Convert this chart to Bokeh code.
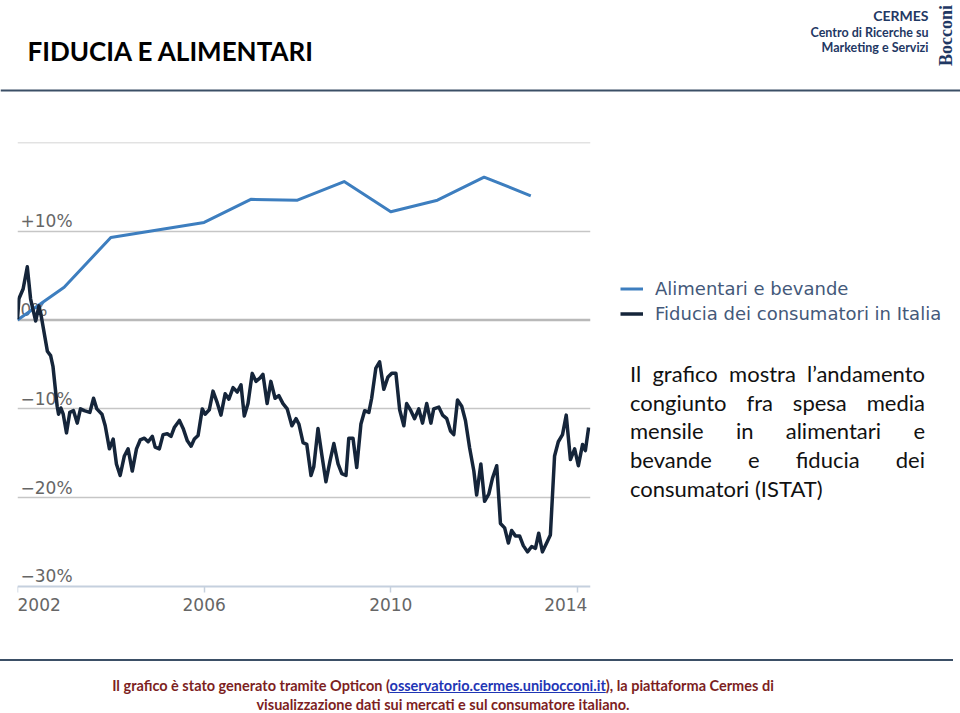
import numpy as np
from bokeh.plotting import figure
from bokeh.models import Range1d, FixedTicker, Span, Legend, LegendItem, Div
from bokeh.layouts import column, row
from bokeh.core.properties import value
from bokeh.embed import file_html
from bokeh.resources import INLINE

# ---------------- data ----------------
series_names = ["Alimentari e bevande", "Fiducia dei consumatori in Italia"]

food_years = [2002, 2003, 2004, 2006, 2007, 2008, 2009, 2010, 2011, 2012, 2013]
food_change = [0.0, 3.7, 9.3, 11.0, 13.6, 13.5, 15.6, 12.2, 13.5, 16.1, 14.0]

trust_years = [
    2002.00, 2002.03, 2002.12, 2002.21, 2002.28, 2002.34, 2002.39, 2002.46, 2002.51, 2002.64,
    2002.71, 2002.76, 2002.85, 2002.88, 2002.93, 2002.98, 2003.05, 2003.12, 2003.20, 2003.28,
    2003.35, 2003.43, 2003.55, 2003.63, 2003.70, 2003.81, 2003.88, 2003.97, 2004.05, 2004.12,
    2004.20, 2004.29, 2004.37, 2004.46, 2004.55, 2004.63, 2004.72, 2004.80, 2004.89, 2004.95,
    2005.04, 2005.12, 2005.21, 2005.29, 2005.36, 2005.47, 2005.55, 2005.64, 2005.72, 2005.79,
    2005.87, 2005.96, 2006.02, 2006.11, 2006.19, 2006.28, 2006.36, 2006.45, 2006.53, 2006.62,
    2006.71, 2006.79, 2006.86, 2006.94, 2007.03, 2007.11, 2007.20, 2007.26, 2007.35, 2007.43,
    2007.52, 2007.60, 2007.69, 2007.78, 2007.88, 2007.97, 2008.03, 2008.12, 2008.20, 2008.29,
    2008.35, 2008.44, 2008.52, 2008.61, 2008.70, 2008.78, 2008.87, 2008.95, 2009.04, 2009.10,
    2009.19, 2009.27, 2009.36, 2009.44, 2009.53, 2009.59, 2009.68, 2009.76, 2009.85, 2009.94,
    2010.02, 2010.11, 2010.19, 2010.28, 2010.34, 2010.43, 2010.51, 2010.60, 2010.68, 2010.77,
    2010.86, 2010.92, 2011.03, 2011.11, 2011.20, 2011.28, 2011.35, 2011.43, 2011.52, 2011.60,
    2011.69, 2011.78, 2011.84, 2011.93, 2012.01, 2012.10, 2012.18, 2012.27, 2012.35, 2012.44,
    2012.52, 2012.59, 2012.67, 2012.76, 2012.84, 2012.93, 2013.02, 2013.10, 2013.17, 2013.25,
    2013.34, 2013.42, 2013.51, 2013.59, 2013.68, 2013.76, 2013.85, 2013.94, 2014.02, 2014.11,
    2014.17, 2014.24]
trust_change = [
    0.1, 2.4, 3.5, 6.0, 2.4, 1.0, -0.1, 1.6, 0.4, -3.5,
    -4.0, -5.2, -9.7, -10.6, -9.9, -10.6, -12.7, -10.4, -10.2, -11.6,
    -10.0, -10.2, -10.4, -8.8, -10.0, -10.6, -11.9, -14.5, -13.4, -16.2,
    -17.5, -15.3, -14.5, -17.0, -14.5, -13.5, -13.3, -13.7, -13.1, -14.3,
    -14.5, -12.9, -12.8, -13.1, -12.1, -11.3, -12.2, -13.6, -14.2, -13.4,
    -13.0, -10.0, -10.6, -10.1, -8.0, -9.3, -10.7, -8.3, -8.9, -7.6,
    -8.1, -7.3, -10.8, -9.4, -6.0, -6.9, -6.5, -6.1, -9.4, -6.9,
    -8.8, -8.5, -9.4, -10.0, -11.9, -11.1, -11.7, -13.8, -14.0, -17.5,
    -16.5, -12.2, -15.1, -18.2, -15.8, -13.9, -16.2, -17.3, -17.5, -13.3,
    -13.3, -16.6, -11.7, -10.2, -10.4, -8.8, -5.4, -4.7, -7.8, -6.4,
    -6.0, -6.0, -10.1, -11.9, -9.4, -10.2, -11.1, -10.0, -11.6, -9.4,
    -11.6, -10.0, -9.8, -10.7, -11.1, -12.5, -12.9, -9.0, -9.7, -11.3,
    -14.4, -17.0, -19.7, -16.2, -20.4, -19.6, -17.8, -16.4, -22.9, -23.4,
    -25.1, -23.7, -24.3, -24.3, -25.4, -26.1, -25.5, -25.7, -24.0, -26.1,
    -25.1, -24.2, -15.3, -13.7, -12.9, -10.7, -15.7, -14.5, -16.4, -14.0,
    -14.7, -12.1]

year_ticks = [2002, 2006, 2010, 2014]
year_labels = ["2002", "2006", "2010", "2014"]
pct_ticks = [10, 0, -10, -20, -30]
pct_labels = ["+10%", "0%", "\u221210%", "\u221220%", "\u221230%"]
grid_levels = [20, 10, -10, -20]
axis_floor = -30
axis_top = 20

title_text = "FIDUCIA E ALIMENTARI"
org_lines = ["CERMES", "Centro di Ricerche su", "Marketing e Servizi"]
brand_text = "Bocconi"
para_lines = ["Il grafico mostra l\u2019andamento", "congiunto fra spesa media",
              "mensile in alimentari e", "bevande e fiducia dei", "consumatori (ISTAT)"]
footer_pre = "Il grafico è stato generato tramite Opticon ("
footer_link = "osservatorio.cermes.unibocconi.it"
footer_post = "), la piattaforma Cermes di"
footer_line2 = "visualizzazione dati sui mercati e sul consumatore italiano."

BLUE = "#3d7ebf"
NAVY = "#15253a"
HEAD = "#1f3864"
GRID = "#c6c6c6"
AX_FONT = "DejaVu Sans"

# ---------------- header ----------------
header = figure(width=960, height=100, x_range=Range1d(0, 960), y_range=Range1d(100, 0),
                x_axis_location=None, y_axis_location=None, min_border=0,
                outline_line_color=None, toolbar_location=None, output_backend="svg")
header.grid.visible = False
header.text(x=[27], y=[50], text=[title_text], text_font=value("Lato"), text_font_style="bold",
            text_font_size="26px", text_color="#000000", text_align="left", text_baseline="middle")
header.text(x=[928], y=[15], text=[org_lines[0]], text_font=value("Lato"), text_font_style="bold",
            text_font_size="14px", text_color=HEAD, text_align="right", text_baseline="middle")
header.text(x=[928, 928], y=[32, 47], text=org_lines[1:], text_font=value("Lato"), text_font_style="bold",
            text_font_size="12.5px", text_color=HEAD, text_align="right", text_baseline="middle")
header.text(x=[945], y=[35], text=[brand_text], angle=np.pi / 2, text_font=value("Liberation Serif"),
            text_font_style="bold", text_font_size="18px", text_color=HEAD,
            text_align="center", text_baseline="middle")
header.add_layout(Span(location=90, dimension="width", line_color="#3b4f66", line_width=2))

# ---------------- chart ----------------
chart = figure(frame_width=573, frame_height=478, min_border_left=17, min_border_right=10,
               min_border_top=42, min_border_bottom=28,
               x_range=Range1d(2002, 2014.28), y_range=Range1d(-33.83, axis_top),
               y_axis_location=None, outline_line_color=None,
               toolbar_location=None, output_backend="svg")
chart.xgrid.visible = False
chart.ygrid.ticker = FixedTicker(ticks=grid_levels)
chart.ygrid.grid_line_color = GRID
chart.ygrid.grid_line_width = 1.5
chart.add_layout(Span(location=axis_top, dimension="width", line_color=GRID, line_width=1.5, level="underlay"))
chart.add_layout(Span(location=0, dimension="width", line_color="#b9b9b9", line_width=2.5, level="underlay"))

xa = chart.xaxis[0]
xa.fixed_location = axis_floor
xa.ticker = FixedTicker(ticks=year_ticks)
xa.axis_line_color = "#c5d0de"
xa.axis_line_width = 2
xa.major_tick_line_color = "#c5d0de"
xa.major_tick_line_width = 1.5
xa.major_tick_out = 6
xa.major_tick_in = 0
xa.minor_tick_line_color = None
xa.major_label_text_color = None
xa.major_label_text_font_size = "1px"
xa.major_label_standoff = 0

n = len(year_ticks)
for i, (t, lab) in enumerate(zip(year_ticks, year_labels)):
    align = "left" if i == 0 else ("right" if i == n - 1 else "center")
    xoff = 10 if i == n - 1 else 0
    chart.text(x=[t], y=[axis_floor], text=[lab], text_align=align, text_baseline="middle",
               x_offset=xoff, y_offset=18, text_font=value(AX_FONT),
               text_font_size="17px", text_color="#666666")

chart.text(x=[chart.x_range.start] * len(pct_ticks), y=pct_ticks, text=pct_labels,
           x_offset=3, y_offset=-10, text_align="left", text_baseline="middle",
           text_font=value(AX_FONT), text_font_size="17px", text_color="#666666")

chart.line(food_years, food_change, line_color=BLUE, line_width=3, line_join="round")
chart.line(trust_years, trust_change, line_color=NAVY, line_width=3.5, line_join="round")

# ---------------- legend ----------------
leg_fig = figure(width=360, height=240, x_range=Range1d(0, 1), y_range=Range1d(0, 1),
                 x_axis_location=None, y_axis_location=None, min_border=0,
                 outline_line_color=None, toolbar_location=None, output_backend="svg")
leg_fig.grid.visible = False
r_food = leg_fig.line([np.nan, np.nan], [np.nan, np.nan], line_color=BLUE, line_width=3)
r_trust = leg_fig.line([np.nan, np.nan], [np.nan, np.nan], line_color=NAVY, line_width=3.5)
legend = Legend(items=[LegendItem(label=series_names[0], renderers=[r_food]),
                       LegendItem(label=series_names[1], renderers=[r_trust])],
                location=(20, 16), orientation="vertical",
                label_text_font=AX_FONT, label_text_font_size="18px", label_text_color="#44597a",
                glyph_width=23, glyph_height=21, label_height=21, label_standoff=12,
                spacing=4, padding=0, margin=0, border_line_color=None, background_fill_alpha=0)
leg_fig.add_layout(legend)

# ---------------- paragraph ----------------
line_divs = []
for i, ln in enumerate(para_lines):
    last = i == len(para_lines) - 1
    style = "text-align:left;" if last else "text-align:justify;text-align-last:justify;"
    line_divs.append(f'<div style="{style}">{ln}</div>')
para_html = ('<div style="padding:20px 0 0 30px;">'
             '<div style="width:295px;font-family:Lato;font-size:22px;line-height:28.7px;color:#111111;">'
             + "".join(line_divs) + '</div></div>')
para = Div(text=para_html, width=360, height=308, margin=0)

# ---------------- footer ----------------
footer_html = (
    '<div style="width:960px;">'
    '<div style="height:0;border-top:2px solid #3b4f66;margin-top:11px;width:953px;"></div>'
    '<div style="width:886px;text-align:center;font-family:Lato;font-weight:bold;font-size:14.5px;'
    'line-height:19px;color:#7d1f1f;margin-top:15px;white-space:nowrap;">'
    f'{footer_pre}<span style="color:#1f36b5;text-decoration:underline;">{footer_link}</span>{footer_post}<br>'
    f'{footer_line2}</div></div>')
footer = Div(text=footer_html, width=960, height=65, margin=0)

layout = column(header, row(chart, column(leg_fig, para, spacing=0), spacing=0), footer, spacing=0)

open("out.html", "w").write(file_html(layout, INLINE))
